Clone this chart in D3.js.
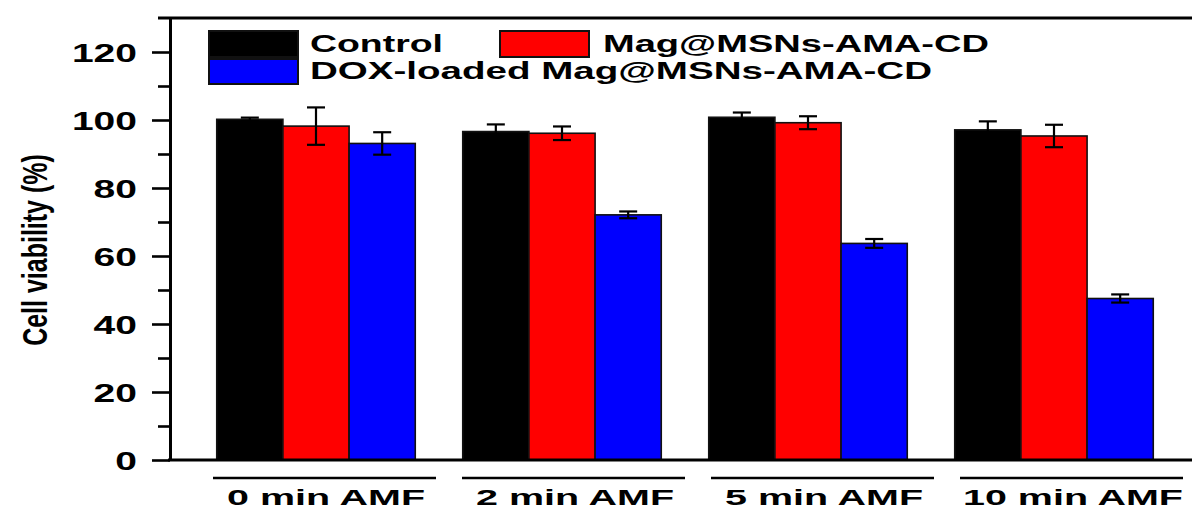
<!DOCTYPE html>
<html>
<head>
<meta charset="utf-8">
<script src="https://cdn.jsdelivr.net/npm/d3@7"></script>
<style>
html,body{margin:0;padding:0;background:#fff;overflow:hidden;}
svg{display:block;}
text{font-family:"Liberation Sans",Arial,sans-serif;font-weight:bold;fill:#000;}
</style>
</head>
<body>
<svg id="chart" width="1192" height="511"></svg>
<script>
// ---- data ----
const groups = ["0 min AMF", "2 min AMF", "5 min AMF", "10 min AMF"];
const seriesNames = ["Control", "Mag@MSNs-AMA-CD", "DOX-loaded Mag@MSNs-AMA-CD"];
const seriesColors = ["#000000", "#ff0000", "#0000ff"];
const controlValues = [100.2, 96.6, 100.8, 97.1];
const controlErrors = [0.5, 2.1, 1.4, 2.5];
const magValues = [98.2, 96.1, 99.2, 95.3];
const magErrors = [5.5, 2.0, 1.9, 3.3];
const doxValues = [93.1, 72.1, 63.7, 47.5];
const doxErrors = [3.3, 1.0, 1.3, 1.2];
const yMajorTicks = [0, 20, 40, 60, 80, 100, 120];
const yMinorTicks = [10, 30, 50, 70, 90, 110];
const yTitle = "Cell viability (%)";

const values = [controlValues, magValues, doxValues];
const errors = [controlErrors, magErrors, doxErrors];

const svg = d3.select("#chart");

// ---- scales ----
const y = d3.scaleLinear().domain([0, 130]).range([460, 18]);
const x0 = d3.scaleBand().domain(groups).range([170, 1200]).paddingInner(0.193).paddingOuter(0.19);
const x1 = d3.scaleBand().domain(d3.range(seriesNames.length)).range([0, x0.bandwidth()]);
const xl = d3.scalePoint().domain(groups).range([326, 1073]);

// ---- bars ----
const rows = [];
groups.forEach((g, gi) => {
  seriesNames.forEach((s, si) => {
    rows.push({g, si, v: values[si][gi], e: errors[si][gi]});
  });
});

const bars = svg.append("g");
bars.selectAll("rect").data(rows).join("rect")
  .attr("x", d => x0(d.g) + x1(d.si))
  .attr("y", d => y(d.v))
  .attr("width", x1.bandwidth())
  .attr("height", d => y(0) - y(d.v))
  .attr("fill", d => seriesColors[d.si])
  .attr("stroke", "#111")
  .attr("stroke-width", 1.6);

// ---- error bars ----
const eb = svg.append("g").attr("stroke", "#000").attr("stroke-width", 2.2);
rows.forEach(d => {
  const cx = x0(d.g) + x1(d.si) + x1.bandwidth() / 2;
  const g = eb.append("g");
  g.append("line").attr("x1", cx).attr("x2", cx).attr("y1", y(d.v + d.e)).attr("y2", y(d.v - d.e));
  g.append("line").attr("x1", cx - 9).attr("x2", cx + 9).attr("y1", y(d.v + d.e)).attr("y2", y(d.v + d.e));
  g.append("line").attr("x1", cx - 9).attr("x2", cx + 9).attr("y1", y(d.v - d.e)).attr("y2", y(d.v - d.e));
});

// ---- axes ----
const yAxis = svg.append("g").attr("transform", "translate(170,0)")
  .call(d3.axisLeft(y).tickValues(yMajorTicks).tickSize(18).tickSizeOuter(0).tickPadding(15));
yAxis.select(".domain").attr("stroke-width", 3);
yAxis.selectAll(".tick line").attr("stroke-width", 2.6);
yAxis.selectAll(".tick text")
  .attr("font-size", 25)
  .attr("font-family", "Liberation Sans, Arial, sans-serif")
  .attr("font-weight", "bold")
  .attr("dy", "0.36em")
  .attr("textLength", function(d) { return String(d).length * 21.7; })
  .attr("lengthAdjust", "spacingAndGlyphs");

const yMinor = svg.append("g").attr("transform", "translate(170,0)")
  .call(d3.axisLeft(y).tickValues(yMinorTicks).tickSize(12).tickSizeOuter(0).tickFormat(""));
yMinor.select(".domain").remove();
yMinor.selectAll(".tick line").attr("stroke-width", 2.6);

// top frame line and bottom axis line
svg.append("line").attr("x1", 158).attr("x2", 1192).attr("y1", y(130)).attr("y2", y(130))
  .attr("stroke", "#000").attr("stroke-width", 3);
svg.append("line").attr("x1", 168).attr("x2", 1192).attr("y1", y(0)).attr("y2", y(0))
  .attr("stroke", "#000").attr("stroke-width", 3);

// group underlines + labels
const gl = svg.append("g");
groups.forEach(g => {
  const c = xl(g);
  gl.append("line").attr("x1", c - 113).attr("x2", Math.min(c + 110, 1192)).attr("y1", 478).attr("y2", 478)
    .attr("stroke", "#000").attr("stroke-width", 2.6);
  gl.append("text").attr("x", c).attr("y", 505).attr("text-anchor", "middle")
    .attr("font-size", 22)
    .attr("textLength", g.length * 22)
    .attr("lengthAdjust", "spacingAndGlyphs")
    .text(g);
});

// y title
svg.append("text")
  .attr("transform", "translate(47,250) scale(1.4,1) rotate(-90)")
  .attr("text-anchor", "middle")
  .attr("font-size", 25)
  .text(yTitle);

// ---- legend ----
const legendItems = [
  {i: 0, sx: 209, sy: 31, sh: 26, tx: 310, ty: 52, tw: 133},
  {i: 1, sx: 500, sy: 31, sh: 26, tx: 603, ty: 52, tw: 386},
  {i: 2, sx: 209, sy: 59, sh: 25, tx: 310, ty: 79, tw: 622}
];
const lg = svg.append("g");
legendItems.forEach(it => {
  lg.append("rect").attr("x", it.sx).attr("y", it.sy).attr("width", 89).attr("height", it.sh)
    .attr("fill", seriesColors[it.i]).attr("stroke", "#111").attr("stroke-width", 2);
  lg.append("text").attr("x", it.tx).attr("y", it.ty).attr("font-size", 23.5)
    .attr("textLength", it.tw).attr("lengthAdjust", "spacingAndGlyphs")
    .text(seriesNames[it.i]);
});
</script>
</body>
</html>
